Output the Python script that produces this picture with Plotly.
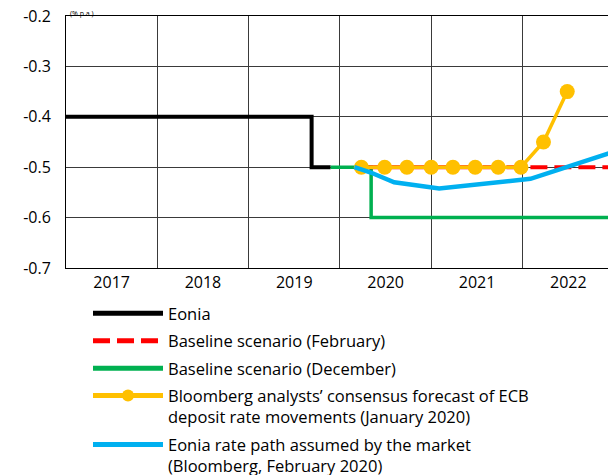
import plotly.graph_objects as go

# ---------------- data ----------------
eonia_dates = ["2017-01-01", "2019-09-10", "2019-11-25"]
eonia_vals = [-0.40, -0.50, -0.50]

feb_dates = ["2020-03-31", "2023-01-01"]
feb_vals = [-0.50, -0.50]

dec_dates = ["2019-11-25", "2020-05-05", "2023-01-01"]
dec_vals = [-0.50, -0.60, -0.60]

bbg_dates = ["2020-03-27", "2020-06-28", "2020-09-25", "2020-12-31", "2021-03-28",
             "2021-06-25", "2021-09-25", "2021-12-25", "2022-03-25", "2022-06-28"]
bbg_vals = [-0.50, -0.50, -0.50, -0.50, -0.50, -0.50, -0.50, -0.50, -0.45, -0.35]

mkt_dates = ["2020-02-28", "2020-05-01", "2020-08-05", "2021-02-01", "2022-02-01", "2023-01-10"]
mkt_vals = [-0.500, -0.510, -0.530, -0.542, -0.523, -0.468]

y_tick_vals = [-0.7, -0.6, -0.5, -0.4, -0.3, -0.2]
y_tick_text = ["-0.7", "-0.6", "-0.5", "-0.4", "-0.3", "-0.2"]

names = [
    "Eonia",
    "Baseline scenario (February)",
    "Baseline scenario (December)",
    "Bloomberg analysts\u2019 consensus forecast of ECB<br>deposit rate movements (January 2020)",
    "Eonia rate path assumed by the market<br>(Bloomberg, February 2020)",
]
unit_text = "(% p.a.)"

BLACK = "#000000"
RED = "#ff0000"
GREEN = "#00b050"
YELLOW = "#ffc000"
BLUE = "#00b0f0"

# page body adds an 8px offset; figure sized so it ends exactly at the window edge
W, H = 608, 467
M_L, M_R, M_T = 58, 2, 8
PLOT_BOTTOM = 260
paper_h = H - M_T
plot_w = W - M_L - M_R
y_dom_bottom = (H - PLOT_BOTTOM) / paper_h

fig = go.Figure()

fig.add_trace(go.Scatter(x=eonia_dates, y=eonia_vals, mode="lines", name=names[0],
                         line=dict(color=BLACK, width=4, shape="hv"),
                         legendgroup="a", legendrank=1))
fig.add_trace(go.Scatter(x=dec_dates, y=dec_vals, mode="lines", name=names[2],
                         line=dict(color=GREEN, width=3.5, shape="hv"),
                         legendgroup="c", legendrank=3))
fig.add_trace(go.Scatter(x=feb_dates, y=feb_vals, mode="lines", name=names[1],
                         line=dict(color=RED, width=4, dash="17px,7px"),
                         legendgroup="b", legendrank=2))
fig.add_trace(go.Scatter(x=bbg_dates, y=bbg_vals, mode="lines+markers", name=names[3],
                         line=dict(color=YELLOW, width=3.5),
                         marker=dict(color=YELLOW, size=15),
                         legendgroup="d", legendrank=4))
fig.add_trace(go.Scatter(x=mkt_dates, y=mkt_vals, mode="lines", name=names[4],
                         line=dict(color=BLUE, width=4.5),
                         legendgroup="e", legendrank=5))

fig.update_layout(
    width=W, height=H,
    margin=dict(l=M_L, r=M_R, t=M_T, b=0, autoexpand=False),
    paper_bgcolor="white", plot_bgcolor="white",
    font=dict(family="Open Sans", size=17, color="black"),
    showlegend=True,
    legend=dict(x=(80 - M_L) / plot_w, y=(H - 288) / paper_h, xanchor="left", yanchor="top",
                traceorder="grouped", tracegroupgap=3, valign="top",
                itemwidth=70, itemsizing="constant",
                font=dict(family="Open Sans", size=16.5, color="black"),
                bgcolor="rgba(0,0,0,0)"),
    xaxis=dict(type="date", range=["2017-01-01", "2023-01-01"],
               tick0="2017-01-01", dtick="M12", tickformat="%Y",
               ticklabelmode="period", showgrid=True, gridcolor="#3a3a3a", gridwidth=1,
               showline=True, linecolor="black", linewidth=1, mirror=True,
               ticks="", ticklabelstandoff=0, ticklabeloverflow="allow",
               tickfont=dict(family="Open Sans", size=16, color="black"), zeroline=False),
    yaxis=dict(domain=[y_dom_bottom, 1], range=[-0.7, -0.2],
               tickvals=y_tick_vals, ticktext=y_tick_text,
               showgrid=True, gridcolor="#3a3a3a", gridwidth=1,
               showline=True, linecolor="black", linewidth=1, mirror=True,
               ticks="", ticklabelstandoff=11, ticklabeloverflow="allow",
               tickfont=dict(family="Open Sans", size=16, color="black"), zeroline=False),
)

fig.add_annotation(text=unit_text, xref="paper", yref="paper", x=0.005,
                   y=1 + M_T / paper_h, xanchor="left", yanchor="top", showarrow=False,
                   borderpad=0,
                   font=dict(family="Open Sans", size=7, color="black"))

fig.write_html("out.html")
